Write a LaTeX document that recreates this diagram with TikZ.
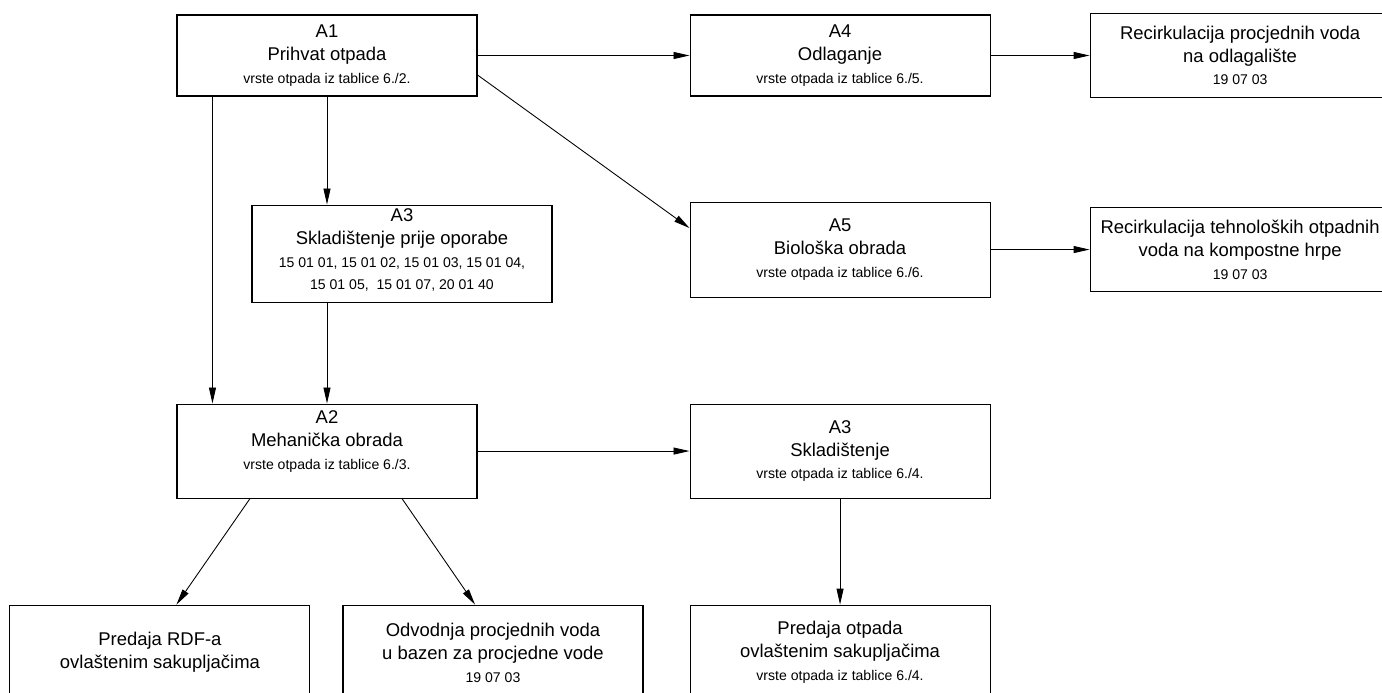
\documentclass[tikz,border=0pt]{standalone}
\usepackage{fontspec}
\setmainfont{Liberation Sans}
\usetikzlibrary{positioning,arrows.meta}
\newcommand{\mainfnt}{\fontsize{10.5}{13}\selectfont}
\newcommand{\smalltxt}{\fontsize{8}{10.8}\selectfont}

\begin{document}
\begin{tikzpicture}[
    node distance=2cm,
    line width=0.5pt,
    proc node/.style={rectangle, draw, line width=0.6pt, minimum width=6cm, minimum height=1.9cm, align=center, font=\mainfnt, inner sep=2pt},
    out node/.style={proc node, minimum height=1.68cm},
    flow/.style={-{Triangle[length=3.2mm, width=1.4mm]}}
]
  \clip (0,0) rectangle (27.64,-13.86);
  % top row
  \node[proc node, minimum height=1.62cm] (a1) at (6.54,-1.11) {A1\\Prihvat otpada\\\smalltxt vrste otpada iz tablice 6./2.};
  \node[proc node, minimum height=1.62cm] (a4) [right=4.24cm of a1] {A4\\Odlaganje\\\smalltxt vrste otpada iz tablice 6./5.};
  \node[out node] (rec1) [right=1.98cm of a4] {Recirkulacija procjednih voda\\na odlagalište\\\smalltxt 19 07 03};
  % middle row
  \node[proc node, minimum height=1.92cm] (a3) [below=2.16cm of a1, xshift=1.5cm] {A3\\Skladištenje prije oporabe\\\smalltxt 15 01 01, 15 01 02, 15 01 03, 15 01 04,\\\smalltxt 15 01 05,~ 15 01 07, 20 01 40\rule[-0.18cm]{0pt}{0.18cm}};
  \node[proc node] (a5) [below=2.1cm of a4] {A5\\Biološka obrada\\\smalltxt vrste otpada iz tablice 6./6.};
  \node[out node] (rec2) [right=1.98cm of a5] {Recirkulacija tehnoloških otpadnih\\voda na kompostne hrpe\\\smalltxt 19 07 03};
  % A2 row
  \node[proc node, minimum height=1.88cm] (a2) [below=6.14cm of a1] {A2\\Mehanička obrada\\\smalltxt vrste otpada iz tablice 6./3.\rule[-0.45cm]{0pt}{0.45cm}};
  \node[proc node, minimum height=1.88cm] (skl) [right=4.24cm of a2] {A3\\Skladištenje\\\smalltxt vrste otpada iz tablice 6./4.};
  % bottom row
  \node[proc node] (pred) [below=2.12cm of skl] {Predaja otpada\\ovlaštenim sakupljačima\\\smalltxt vrste otpada iz tablice 6./4.};
  \node[proc node] (odv) [left=0.92cm of pred] {Odvodnja procjednih voda\\u bazen za procjedne vode\\\smalltxt 19 07 03};
  \node[proc node] (rdf) [left=0.64cm of odv] {Predaja RDF-a\\ovlaštenim sakupljačima};

  \draw[flow] (a1) -- (a4);
  \draw[flow] (a4) -- (rec1);
  \draw[flow] ([yshift=-0.39cm]a1.east) -- ([yshift=0.43cm]a5.west);
  \draw[flow] (a1.south) -- (a1.south |- a3.north);
  \draw[flow] ([xshift=0.72cm]a1.south west) -- ([xshift=0.72cm]a2.north west);
  \draw[flow] (a2.north |- a3.south) -- (a2.north);
  \draw[flow] (a5) -- (rec2);
  \draw[flow] (a2) -- (skl);
  \draw[flow] ([xshift=-1.54cm]a2.south) -- ([xshift=0.33cm]rdf.north);
  \draw[flow] ([xshift=1.5cm]a2.south) -- ([xshift=-0.36cm]odv.north);
  \draw[flow] (skl) -- (pred);
\end{tikzpicture}
\end{document}
